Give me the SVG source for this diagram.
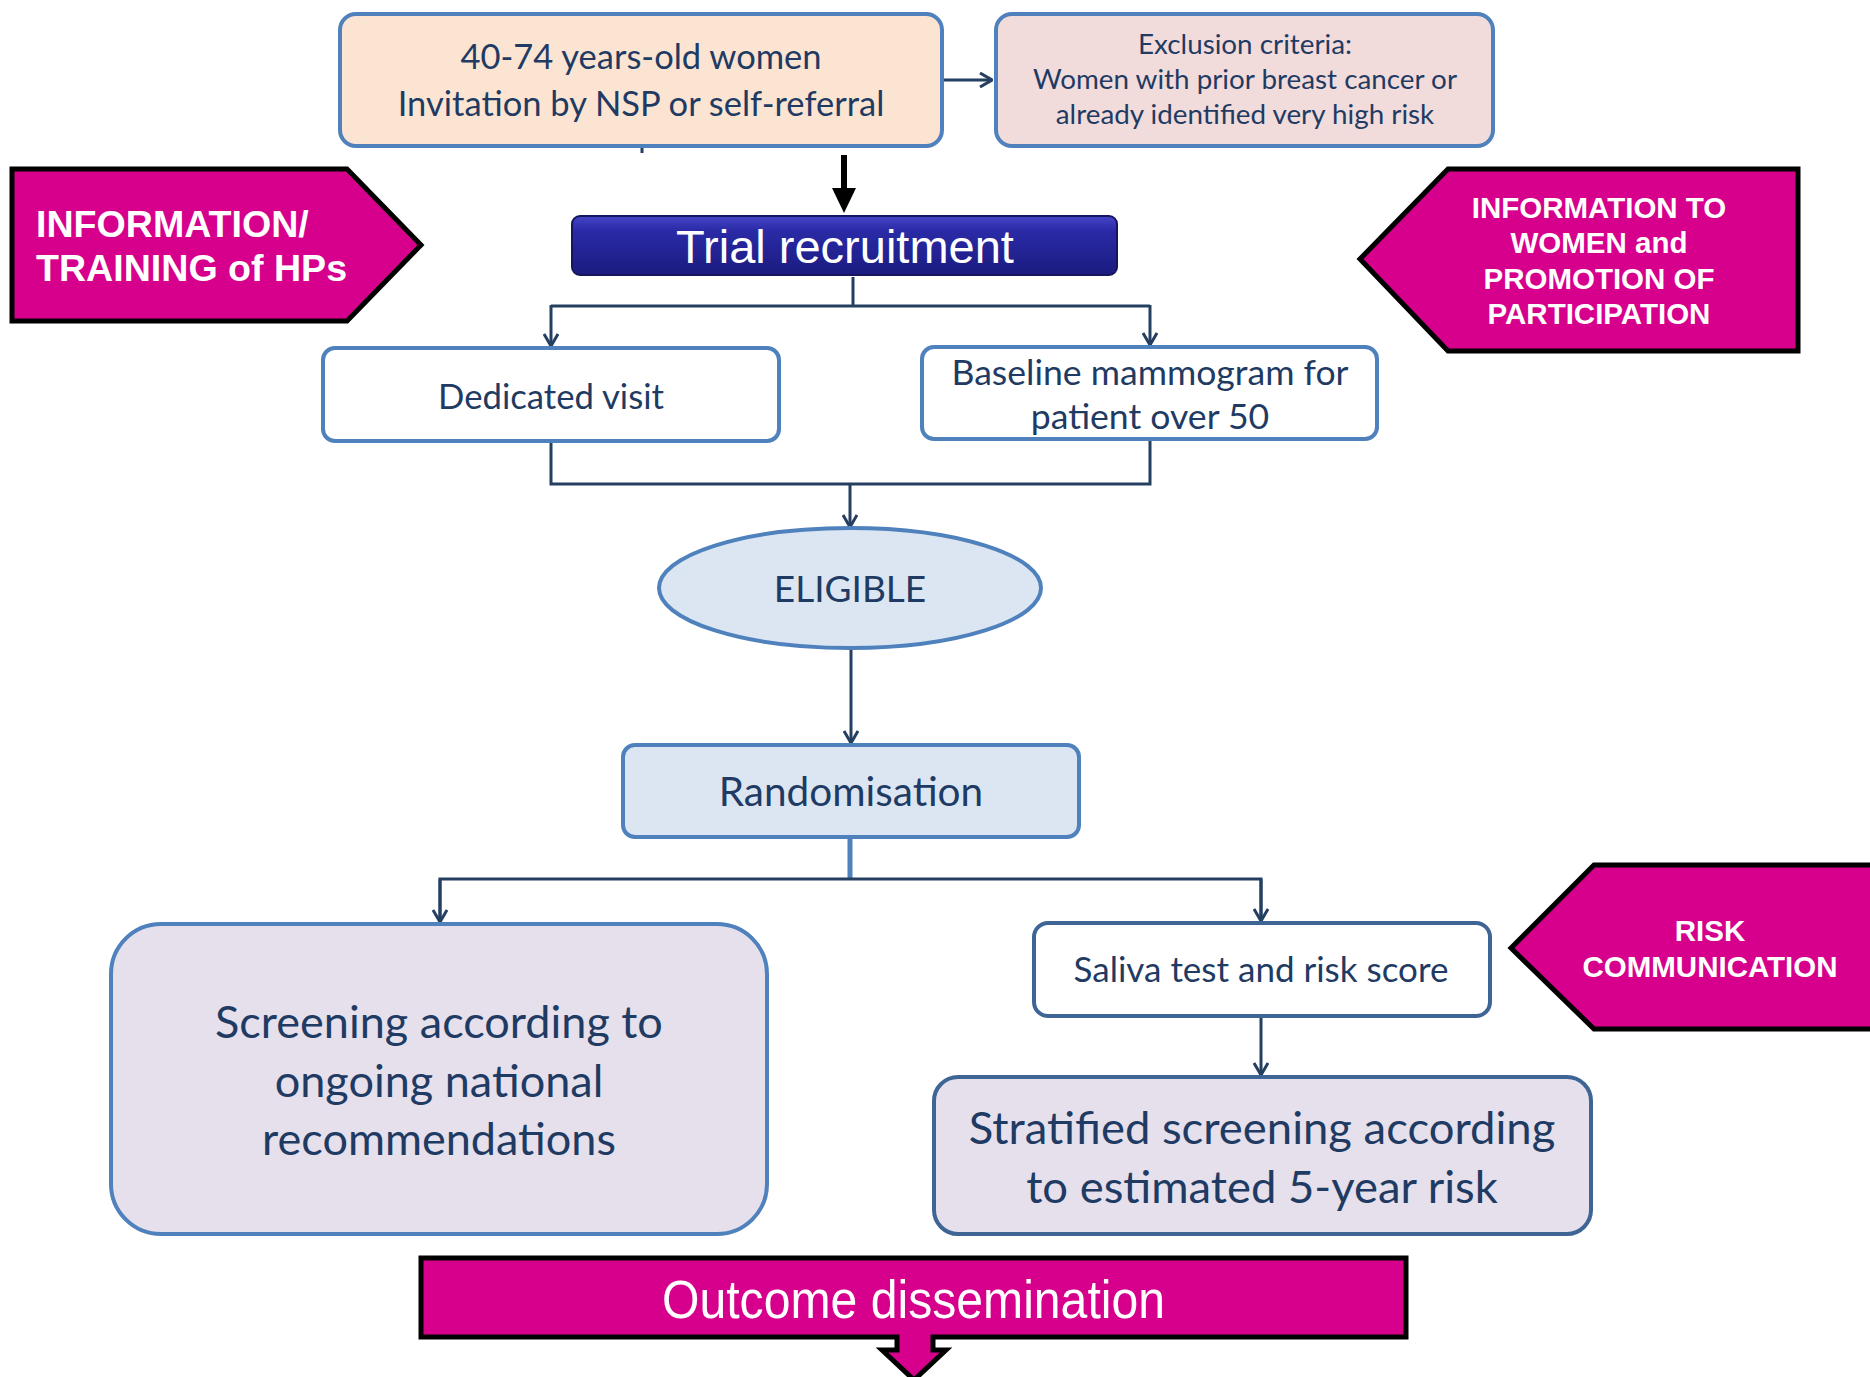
<svg xmlns="http://www.w3.org/2000/svg" width="1870" height="1377" viewBox="0 0 1870 1377">
<defs>
<style>
.box{stroke:#4f81bd;stroke-width:4}
.txt{font-family:Lato,"Open Sans",sans-serif;fill:#1f3b63;text-anchor:middle}
.pk{fill:#d6008d;stroke:#000;stroke-width:5;stroke-linejoin:miter}
.wt{font-family:"Liberation Sans",Arial,sans-serif;font-weight:bold;fill:#fff}
.con{fill:none;stroke:#243f60;stroke-width:3}
</style>
<marker id="arr" viewBox="0 0 14 16" refX="13" refY="8" markerWidth="14" markerHeight="16" markerUnits="userSpaceOnUse" orient="auto">
<path d="M1,1 L13,8 L1,15" fill="none" stroke="#243f60" stroke-width="3"/>
</marker>
<linearGradient id="tg" x1="0" y1="0" x2="0" y2="1">
<stop offset="0" stop-color="#4545c8"/>
<stop offset="0.25" stop-color="#2a2aa6"/>
<stop offset="1" stop-color="#1b1b80"/>
</linearGradient>
</defs>
<rect width="1870" height="1377" fill="#fff"/>

<g id="connectors">
<line x1="942" y1="80" x2="992" y2="80" class="con" marker-end="url(#arr)"/>
<line x1="642" y1="146" x2="642" y2="153" class="con"/>
<line x1="844" y1="155" x2="844" y2="190" stroke="#000" stroke-width="6"/>
<polygon points="832,188 856,188 844,213" fill="#000"/>
<path d="M853,277 V306 M551,306 H1150" class="con"/>
<line x1="551" y1="305" x2="551" y2="346" class="con" marker-end="url(#arr)"/>
<line x1="1150" y1="305" x2="1150" y2="345" class="con" marker-end="url(#arr)"/>
<path d="M551,441 V484 H1150 V439" class="con"/>
<line x1="850" y1="484" x2="850" y2="527" class="con" marker-end="url(#arr)"/>
<line x1="851" y1="649" x2="851" y2="743" class="con" marker-end="url(#arr)"/>
<line x1="850" y1="837" x2="850" y2="879" stroke="#4f81bd" stroke-width="5"/>
<path d="M440,922 V879 H1261 V922" class="con"/>
<line x1="440" y1="879" x2="440" y2="922" class="con" marker-end="url(#arr)"/>
<line x1="1261" y1="879" x2="1261" y2="921" class="con" marker-end="url(#arr)"/>
<line x1="1261" y1="1016" x2="1261" y2="1075" class="con" marker-end="url(#arr)"/>
</g>

<g id="n-women">
<rect x="340" y="14" width="602" height="132" rx="16" fill="#fce4d2" class="box"/>
<text class="txt" font-size="34.5" x="641" y="69">40-74 years-old women</text>
<text class="txt" font-size="34.5" x="641" y="116">Invitation by NSP or self-referral</text>
</g>

<g id="n-exclusion">
<rect x="996" y="14" width="497" height="132" rx="16" fill="#f2dcdb" class="box"/>
<text class="txt" font-size="27.8" x="1245" y="54">Exclusion criteria:</text>
<text class="txt" font-size="27.8" x="1245" y="89">Women with prior breast cancer or</text>
<text class="txt" font-size="27.8" x="1245" y="124">already identified very high risk</text>
</g>

<g id="n-training">
<polygon class="pk" points="12,169 347,169 421,245 347,321 12,321"/>
<text class="wt" font-size="37.6" x="36" y="237">INFORMATION/</text>
<text class="wt" font-size="37.6" x="36" y="281">TRAINING of HPs</text>
</g>

<g id="n-information">
<polygon class="pk" points="1360,259 1448,169 1798,169 1798,351 1448,351"/>
<g text-anchor="middle">
<text class="wt" font-size="29.5" x="1599" y="218">INFORMATION TO</text>
<text class="wt" font-size="29.5" x="1599" y="253">WOMEN and</text>
<text class="wt" font-size="29.5" x="1599" y="289">PROMOTION OF</text>
<text class="wt" font-size="29.5" x="1599" y="324">PARTICIPATION</text>
</g>
</g>

<g id="n-trial">
<rect x="572" y="216" width="545" height="59" rx="8" fill="url(#tg)" stroke="#16165e" stroke-width="2"/>
<text font-family="'Liberation Sans',Arial,sans-serif" font-size="47" fill="#fff" text-anchor="middle" x="845" y="263">Trial recruitment</text>
</g>

<g id="n-dedicated">
<rect x="323" y="348" width="456" height="93" rx="12" fill="#fff" class="box"/>
<text class="txt" font-size="34.7" x="551" y="409">Dedicated visit</text>
</g>

<g id="n-baseline">
<rect x="922" y="347" width="455" height="92" rx="12" fill="#fff" class="box"/>
<text class="txt" font-size="35.6" x="1150" y="385">Baseline mammogram for</text>
<text class="txt" font-size="35.6" x="1150" y="429">patient over 50</text>
</g>

<g id="n-eligible">
<ellipse cx="850" cy="588" rx="191" ry="60" fill="#dce6f2" class="box"/>
<text class="txt" font-size="37" x="850" y="602">ELIGIBLE</text>
</g>

<g id="n-random">
<rect x="623" y="745" width="456" height="92" rx="12" fill="#dce6f2" class="box"/>
<text class="txt" font-size="40.5" x="851" y="806">Randomisation</text>
</g>

<g id="n-screening">
<rect x="111" y="924" width="656" height="310" rx="50" fill="#e5e0ec" class="box"/>
<text class="txt" font-size="45" x="439" y="1038">Screening according to</text>
<text class="txt" font-size="45" x="439" y="1097">ongoing national</text>
<text class="txt" font-size="45" x="439" y="1155">recommendations</text>
</g>

<g id="n-saliva">
<rect x="1034" y="923" width="456" height="93" rx="14" fill="#fff" stroke="#3f6595" stroke-width="4"/>
<text class="txt" font-size="35" x="1261" y="982">Saliva test and risk score</text>
</g>

<g id="n-stratified">
<rect x="934" y="1077" width="657" height="157" rx="24" fill="#e5e0ec" stroke="#3f6595" stroke-width="4"/>
<text class="txt" font-size="45.4" x="1262" y="1144">Stratified screening according</text>
<text class="txt" font-size="45.4" x="1262" y="1203">to estimated 5-year risk</text>
</g>

<g id="n-risk">
<polygon class="pk" points="1511,948 1594,865 1875,865 1875,1029 1594,1029"/>
<text class="wt" font-size="29.5" x="1710" y="941" text-anchor="middle">RISK</text>
<text class="wt" font-size="29.5" x="1710" y="977" text-anchor="middle">COMMUNICATION</text>
</g>

<g id="n-outcome">
<polygon class="pk" points="421,1258 1406,1258 1406,1337 933,1337 933,1350 946,1350 914,1380 882,1350 897,1350 897,1337 421,1337"/>
<text font-family="'Liberation Sans',Arial,sans-serif" font-size="53" fill="#fff" x="662" y="1318" textLength="503" lengthAdjust="spacingAndGlyphs">Outcome dissemination</text>
</g>
</svg>
